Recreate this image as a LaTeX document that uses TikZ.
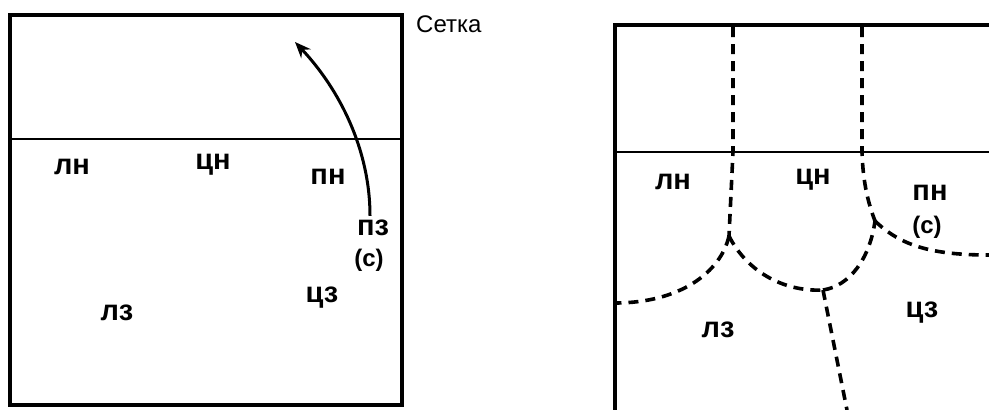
\documentclass[tikz,border=0pt]{standalone}
\usepackage{fontspec}
\setmainfont{Liberation Sans}
\usetikzlibrary{arrows.meta}

\tikzset{
  zone/.style={font=\fontsize{29}{30}\selectfont\bfseries, inner sep=0pt},
  serve/.style={font=\fontsize{24}{26}\selectfont\bfseries, inner sep=0pt},
  field/.style={line width=3.6pt},
  netline/.style={line width=1.2pt},
  border/.style={line width=3.6pt, dash pattern=on 10pt off 7pt}
}

\begin{document}
\begin{tikzpicture}[x=1pt,y=-1pt]
      \useasboundingbox (0,0) rectangle (989,410);
      \def\net{139}
      \def\netb{152}
      %Left court
      \draw[field] (10,15) rectangle (402,405);
      \draw[netline] (10,\net) -- (402,\net);
      \node[font=\fontsize{24}{26}\selectfont, anchor=west, inner sep=0pt] (setka) at (416,24) {Сетка};
      \node[zone] (ln) at (72,167) {лн};
      \node[zone] (cn) at (213,165) {цн};
      \node[zone] (pn) at (328,177) {пн};
      \node[zone] (pz) at (373,228) {пз};
      \node[serve] (s1) at (369,260) {(с)};
      \node[zone] (cz) at (322,298) {цз};
      \node[zone] (lz) at (117,313) {лз};
      \coordinate (go) at (295,42);
      \draw[line width=3pt, -{Stealth[length=16pt,width=13pt]}] (pz.north) ++(-3,-4) .. controls (370,150) and (340,90) .. (go);
      %Right court
      \draw[field] (989,25) -- (615,25) -- (615,410);
      \draw[netline] (615,\netb) -- (989,\netb);
      \node[zone] (ln2) at (673,182) {лн};
      \node[zone] (cn2) at (813,180) {цн};
      \node[zone] (pn2) at (930,193) {пн};
      \node[serve] (s2) at (927,227) {(с)};
      \node[zone] (cz2) at (922,313) {цз};
      \node[zone] (lz2) at (718,330) {лз};
      %Draw zone borders
      \coordinate (j1) at (729,236);
      \coordinate (j2) at (875,221);
      \coordinate (j3) at (823,290);
      \draw[border] (733,27) -- (733,\netb) -- (j1);
      \draw[border] (862,27) -- (862,\netb) .. controls (863,185) and (869,205) .. (j2);
      \draw[border] (j1) .. controls (721,272) and (680,303) .. (615,303);
      \draw[border] (j1) .. controls (746,270) and (782,292) .. (j3);
      \draw[border] (j3) .. controls (850,286) and (870,258) .. (j2);
      \draw[border] (j2) .. controls (900,245) and (930,255) .. (989,255);
      \draw[border] (j3) -- (847,410);
\end{tikzpicture}
\end{document}
